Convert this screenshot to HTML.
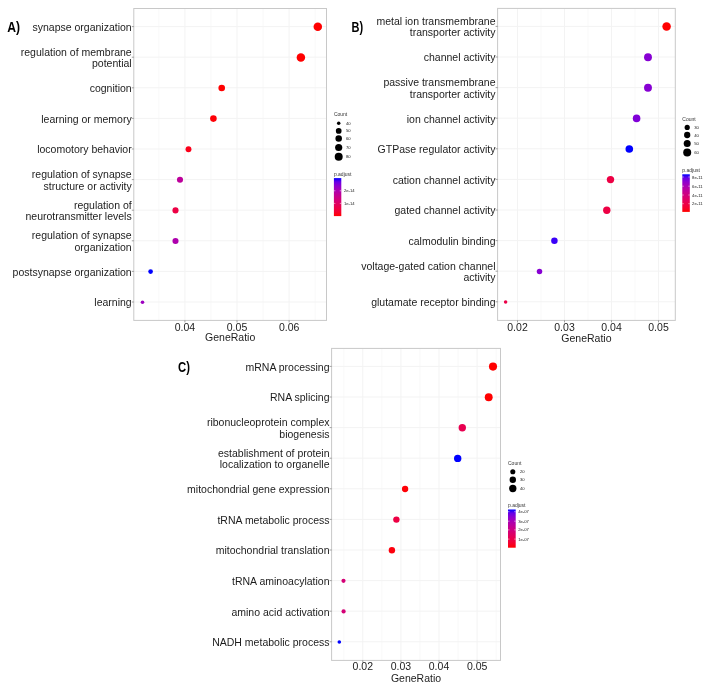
<!DOCTYPE html>
<html><head><meta charset="utf-8"><style>
html,body{margin:0;padding:0;background:#fff;}
svg{display:block;will-change:transform;}
.lb{font-family:"Liberation Sans",sans-serif;font-size:10.5px;fill:#1c1c1c;}
.tag{font-family:"Liberation Sans",sans-serif;font-size:14.5px;font-weight:bold;fill:#000;}
.lg{font-family:"Liberation Sans",sans-serif;font-size:20px;fill:#333;}
.lgs{font-family:"Liberation Sans",sans-serif;font-size:16.8px;fill:#222;}
</style></head><body>
<svg width="708" height="687" viewBox="0 0 708 687">
<rect width="708" height="687" fill="#fff"/>
<defs><filter id="bl" x="-50%" y="-50%" width="200%" height="200%"><feGaussianBlur stdDeviation="0.35"/></filter><linearGradient id="gA" x1="0" y1="0" x2="0" y2="1"><stop offset="0.0" stop-color="#0000ff"/><stop offset="0.1" stop-color="#6800e7"/><stop offset="0.2" stop-color="#8d00ce"/><stop offset="0.3" stop-color="#a600b7"/><stop offset="0.4" stop-color="#ba009f"/><stop offset="0.5" stop-color="#ca0088"/><stop offset="0.6" stop-color="#d70072"/><stop offset="0.7" stop-color="#e3005b"/><stop offset="0.8" stop-color="#ed0044"/><stop offset="0.9" stop-color="#f6002a"/><stop offset="1.0" stop-color="#ff0000"/></linearGradient><linearGradient id="gB" x1="0" y1="0" x2="0" y2="1"><stop offset="0.0" stop-color="#0000ff"/><stop offset="0.1" stop-color="#6800e7"/><stop offset="0.2" stop-color="#8d00ce"/><stop offset="0.3" stop-color="#a600b7"/><stop offset="0.4" stop-color="#ba009f"/><stop offset="0.5" stop-color="#ca0088"/><stop offset="0.6" stop-color="#d70072"/><stop offset="0.7" stop-color="#e3005b"/><stop offset="0.8" stop-color="#ed0044"/><stop offset="0.9" stop-color="#f6002a"/><stop offset="1.0" stop-color="#ff0000"/></linearGradient><linearGradient id="gC" x1="0" y1="0" x2="0" y2="1"><stop offset="0.0" stop-color="#0000ff"/><stop offset="0.1" stop-color="#6800e7"/><stop offset="0.2" stop-color="#8d00ce"/><stop offset="0.3" stop-color="#a600b7"/><stop offset="0.4" stop-color="#ba009f"/><stop offset="0.5" stop-color="#ca0088"/><stop offset="0.6" stop-color="#d70072"/><stop offset="0.7" stop-color="#e3005b"/><stop offset="0.8" stop-color="#ed0044"/><stop offset="0.9" stop-color="#f6002a"/><stop offset="1.0" stop-color="#ff0000"/></linearGradient></defs>
<line x1="158.85" y1="8.5" x2="158.85" y2="320.4" stroke="#f7f7f7" stroke-width="0.7"/>
<line x1="210.95" y1="8.5" x2="210.95" y2="320.4" stroke="#f7f7f7" stroke-width="0.7"/>
<line x1="263.05" y1="8.5" x2="263.05" y2="320.4" stroke="#f7f7f7" stroke-width="0.7"/>
<line x1="315.15" y1="8.5" x2="315.15" y2="320.4" stroke="#f7f7f7" stroke-width="0.7"/>
<line x1="184.90" y1="8.5" x2="184.90" y2="320.4" stroke="#f3f3f3" stroke-width="1"/>
<line x1="237.00" y1="8.5" x2="237.00" y2="320.4" stroke="#f3f3f3" stroke-width="1"/>
<line x1="289.10" y1="8.5" x2="289.10" y2="320.4" stroke="#f3f3f3" stroke-width="1"/>
<line x1="133.8" y1="26.60" x2="326.5" y2="26.60" stroke="#f3f3f3" stroke-width="1"/>
<line x1="133.8" y1="57.20" x2="326.5" y2="57.20" stroke="#f3f3f3" stroke-width="1"/>
<line x1="133.8" y1="87.80" x2="326.5" y2="87.80" stroke="#f3f3f3" stroke-width="1"/>
<line x1="133.8" y1="118.40" x2="326.5" y2="118.40" stroke="#f3f3f3" stroke-width="1"/>
<line x1="133.8" y1="149.00" x2="326.5" y2="149.00" stroke="#f3f3f3" stroke-width="1"/>
<line x1="133.8" y1="179.60" x2="326.5" y2="179.60" stroke="#f3f3f3" stroke-width="1"/>
<line x1="133.8" y1="210.20" x2="326.5" y2="210.20" stroke="#f3f3f3" stroke-width="1"/>
<line x1="133.8" y1="240.80" x2="326.5" y2="240.80" stroke="#f3f3f3" stroke-width="1"/>
<line x1="133.8" y1="271.40" x2="326.5" y2="271.40" stroke="#f3f3f3" stroke-width="1"/>
<line x1="133.8" y1="302.00" x2="326.5" y2="302.00" stroke="#f3f3f3" stroke-width="1"/>
<rect x="133.8" y="8.5" width="192.7" height="311.9" fill="none" stroke="#c8c8c8" stroke-width="1.0"/>
<line x1="131.8" y1="26.60" x2="133.8" y2="26.60" stroke="#7a7a7a" stroke-width="0.7"/>
<line x1="131.8" y1="57.20" x2="133.8" y2="57.20" stroke="#7a7a7a" stroke-width="0.7"/>
<line x1="131.8" y1="87.80" x2="133.8" y2="87.80" stroke="#7a7a7a" stroke-width="0.7"/>
<line x1="131.8" y1="118.40" x2="133.8" y2="118.40" stroke="#7a7a7a" stroke-width="0.7"/>
<line x1="131.8" y1="149.00" x2="133.8" y2="149.00" stroke="#7a7a7a" stroke-width="0.7"/>
<line x1="131.8" y1="179.60" x2="133.8" y2="179.60" stroke="#7a7a7a" stroke-width="0.7"/>
<line x1="131.8" y1="210.20" x2="133.8" y2="210.20" stroke="#7a7a7a" stroke-width="0.7"/>
<line x1="131.8" y1="240.80" x2="133.8" y2="240.80" stroke="#7a7a7a" stroke-width="0.7"/>
<line x1="131.8" y1="271.40" x2="133.8" y2="271.40" stroke="#7a7a7a" stroke-width="0.7"/>
<line x1="131.8" y1="302.00" x2="133.8" y2="302.00" stroke="#7a7a7a" stroke-width="0.7"/>
<line x1="184.90" y1="320.4" x2="184.90" y2="322.4" stroke="#7a7a7a" stroke-width="0.7"/>
<line x1="237.00" y1="320.4" x2="237.00" y2="322.4" stroke="#7a7a7a" stroke-width="0.7"/>
<line x1="289.10" y1="320.4" x2="289.10" y2="322.4" stroke="#7a7a7a" stroke-width="0.7"/>
<text x="131.70000000000002" y="30.95" text-anchor="end" class="lb">synapse organization</text>
<text x="131.70000000000002" y="55.85" text-anchor="end" class="lb">regulation of membrane</text>
<text x="131.70000000000002" y="67.25" text-anchor="end" class="lb">potential</text>
<text x="131.70000000000002" y="92.15" text-anchor="end" class="lb">cognition</text>
<text x="131.70000000000002" y="122.75" text-anchor="end" class="lb">learning or memory</text>
<text x="131.70000000000002" y="153.35" text-anchor="end" class="lb">locomotory behavior</text>
<text x="131.70000000000002" y="178.25" text-anchor="end" class="lb">regulation of synapse</text>
<text x="131.70000000000002" y="189.65" text-anchor="end" class="lb">structure or activity</text>
<text x="131.70000000000002" y="208.85" text-anchor="end" class="lb">regulation of</text>
<text x="131.70000000000002" y="220.25" text-anchor="end" class="lb">neurotransmitter levels</text>
<text x="131.70000000000002" y="239.45" text-anchor="end" class="lb">regulation of synapse</text>
<text x="131.70000000000002" y="250.85" text-anchor="end" class="lb">organization</text>
<text x="131.70000000000002" y="275.75" text-anchor="end" class="lb">postsynapse organization</text>
<text x="131.70000000000002" y="306.35" text-anchor="end" class="lb">learning</text>
<text x="184.90" y="330.6" text-anchor="middle" class="lb">0.04</text>
<text x="237.00" y="330.6" text-anchor="middle" class="lb">0.05</text>
<text x="289.10" y="330.6" text-anchor="middle" class="lb">0.06</text>
<text x="230.15" y="341.3" text-anchor="middle" class="lb">GeneRatio</text>
<circle cx="317.80" cy="26.80" r="4.25" fill="#ff0000"/>
<circle cx="300.90" cy="57.40" r="4.25" fill="#ff0000"/>
<circle cx="221.70" cy="88.00" r="3.30" fill="#ff0000"/>
<circle cx="213.40" cy="118.60" r="3.30" fill="#fe0006"/>
<circle cx="188.50" cy="149.20" r="2.95" fill="#fb001a"/>
<circle cx="180.00" cy="179.80" r="3.05" fill="#bd009b"/>
<circle cx="175.50" cy="210.40" r="3.05" fill="#ed0044"/>
<circle cx="175.50" cy="241.00" r="3.05" fill="#ae00ad"/>
<circle cx="150.60" cy="271.60" r="2.35" fill="#0000ff"/>
<circle cx="142.50" cy="302.20" r="1.80" fill="#9d00c0"/>
<text x="7.3" y="31.8" class="tag" textLength="12.8" lengthAdjust="spacingAndGlyphs">A)</text>
<g filter="url(#bl)">
<text transform="translate(333.9,116.3) scale(0.25)" class="lg">Count</text>
<circle cx="338.7" cy="123.3" r="1.75" fill="#000"/>
<text transform="translate(345.9,124.8) scale(0.25)" class="lgs">40</text>
<circle cx="338.7" cy="130.9" r="2.85" fill="#000"/>
<text transform="translate(345.9,132.4) scale(0.25)" class="lgs">50</text>
<circle cx="338.7" cy="138.6" r="3.25" fill="#000"/>
<text transform="translate(345.9,140.1) scale(0.25)" class="lgs">60</text>
<circle cx="338.7" cy="147.5" r="3.6" fill="#000"/>
<text transform="translate(345.9,149.0) scale(0.25)" class="lgs">70</text>
<circle cx="338.7" cy="156.7" r="4.0" fill="#000"/>
<text transform="translate(345.9,158.2) scale(0.25)" class="lgs">80</text>
<text transform="translate(333.9,175.9) scale(0.25)" class="lg">p.adjust</text>
<rect x="333.9" y="178.1" width="7.4" height="38.0" fill="url(#gA)"/>
<line x1="333.9" y1="190.8" x2="335.4" y2="190.8" stroke="#fff" stroke-width="0.5"/>
<line x1="339.79999999999995" y1="190.8" x2="341.29999999999995" y2="190.8" stroke="#fff" stroke-width="0.5"/>
<text transform="translate(343.9,192.3) scale(0.25)" class="lgs">2e-14</text>
<line x1="333.9" y1="203.4" x2="335.4" y2="203.4" stroke="#fff" stroke-width="0.5"/>
<line x1="339.79999999999995" y1="203.4" x2="341.29999999999995" y2="203.4" stroke="#fff" stroke-width="0.5"/>
<text transform="translate(343.9,204.9) scale(0.25)" class="lgs">1e-14</text>
</g>
<line x1="541.00" y1="8.4" x2="541.00" y2="320.4" stroke="#f7f7f7" stroke-width="0.7"/>
<line x1="588.00" y1="8.4" x2="588.00" y2="320.4" stroke="#f7f7f7" stroke-width="0.7"/>
<line x1="635.00" y1="8.4" x2="635.00" y2="320.4" stroke="#f7f7f7" stroke-width="0.7"/>
<line x1="517.50" y1="8.4" x2="517.50" y2="320.4" stroke="#f3f3f3" stroke-width="1"/>
<line x1="564.50" y1="8.4" x2="564.50" y2="320.4" stroke="#f3f3f3" stroke-width="1"/>
<line x1="611.50" y1="8.4" x2="611.50" y2="320.4" stroke="#f3f3f3" stroke-width="1"/>
<line x1="658.50" y1="8.4" x2="658.50" y2="320.4" stroke="#f3f3f3" stroke-width="1"/>
<line x1="497.6" y1="26.40" x2="675.3" y2="26.40" stroke="#f3f3f3" stroke-width="1"/>
<line x1="497.6" y1="57.00" x2="675.3" y2="57.00" stroke="#f3f3f3" stroke-width="1"/>
<line x1="497.6" y1="87.60" x2="675.3" y2="87.60" stroke="#f3f3f3" stroke-width="1"/>
<line x1="497.6" y1="118.20" x2="675.3" y2="118.20" stroke="#f3f3f3" stroke-width="1"/>
<line x1="497.6" y1="148.80" x2="675.3" y2="148.80" stroke="#f3f3f3" stroke-width="1"/>
<line x1="497.6" y1="179.40" x2="675.3" y2="179.40" stroke="#f3f3f3" stroke-width="1"/>
<line x1="497.6" y1="210.00" x2="675.3" y2="210.00" stroke="#f3f3f3" stroke-width="1"/>
<line x1="497.6" y1="240.60" x2="675.3" y2="240.60" stroke="#f3f3f3" stroke-width="1"/>
<line x1="497.6" y1="271.20" x2="675.3" y2="271.20" stroke="#f3f3f3" stroke-width="1"/>
<line x1="497.6" y1="301.80" x2="675.3" y2="301.80" stroke="#f3f3f3" stroke-width="1"/>
<rect x="497.6" y="8.4" width="177.69999999999993" height="312.0" fill="none" stroke="#c8c8c8" stroke-width="1.0"/>
<line x1="495.6" y1="26.40" x2="497.6" y2="26.40" stroke="#7a7a7a" stroke-width="0.7"/>
<line x1="495.6" y1="57.00" x2="497.6" y2="57.00" stroke="#7a7a7a" stroke-width="0.7"/>
<line x1="495.6" y1="87.60" x2="497.6" y2="87.60" stroke="#7a7a7a" stroke-width="0.7"/>
<line x1="495.6" y1="118.20" x2="497.6" y2="118.20" stroke="#7a7a7a" stroke-width="0.7"/>
<line x1="495.6" y1="148.80" x2="497.6" y2="148.80" stroke="#7a7a7a" stroke-width="0.7"/>
<line x1="495.6" y1="179.40" x2="497.6" y2="179.40" stroke="#7a7a7a" stroke-width="0.7"/>
<line x1="495.6" y1="210.00" x2="497.6" y2="210.00" stroke="#7a7a7a" stroke-width="0.7"/>
<line x1="495.6" y1="240.60" x2="497.6" y2="240.60" stroke="#7a7a7a" stroke-width="0.7"/>
<line x1="495.6" y1="271.20" x2="497.6" y2="271.20" stroke="#7a7a7a" stroke-width="0.7"/>
<line x1="495.6" y1="301.80" x2="497.6" y2="301.80" stroke="#7a7a7a" stroke-width="0.7"/>
<line x1="517.50" y1="320.4" x2="517.50" y2="322.4" stroke="#7a7a7a" stroke-width="0.7"/>
<line x1="564.50" y1="320.4" x2="564.50" y2="322.4" stroke="#7a7a7a" stroke-width="0.7"/>
<line x1="611.50" y1="320.4" x2="611.50" y2="322.4" stroke="#7a7a7a" stroke-width="0.7"/>
<line x1="658.50" y1="320.4" x2="658.50" y2="322.4" stroke="#7a7a7a" stroke-width="0.7"/>
<text x="495.5" y="25.05" text-anchor="end" class="lb">metal ion transmembrane</text>
<text x="495.5" y="36.45" text-anchor="end" class="lb">transporter activity</text>
<text x="495.5" y="61.35" text-anchor="end" class="lb">channel activity</text>
<text x="495.5" y="86.25" text-anchor="end" class="lb">passive transmembrane</text>
<text x="495.5" y="97.65" text-anchor="end" class="lb">transporter activity</text>
<text x="495.5" y="122.55" text-anchor="end" class="lb">ion channel activity</text>
<text x="495.5" y="153.15" text-anchor="end" class="lb">GTPase regulator activity</text>
<text x="495.5" y="183.75" text-anchor="end" class="lb">cation channel activity</text>
<text x="495.5" y="214.35" text-anchor="end" class="lb">gated channel activity</text>
<text x="495.5" y="244.95" text-anchor="end" class="lb">calmodulin binding</text>
<text x="495.5" y="269.85" text-anchor="end" class="lb">voltage-gated cation channel</text>
<text x="495.5" y="281.25" text-anchor="end" class="lb">activity</text>
<text x="495.5" y="306.15" text-anchor="end" class="lb">glutamate receptor binding</text>
<text x="517.50" y="331.0" text-anchor="middle" class="lb">0.02</text>
<text x="564.50" y="331.0" text-anchor="middle" class="lb">0.03</text>
<text x="611.50" y="331.0" text-anchor="middle" class="lb">0.04</text>
<text x="658.50" y="331.0" text-anchor="middle" class="lb">0.05</text>
<text x="586.45" y="341.6" text-anchor="middle" class="lb">GeneRatio</text>
<circle cx="666.60" cy="26.60" r="4.25" fill="#ff0000"/>
<circle cx="648.00" cy="57.20" r="3.95" fill="#8700d3"/>
<circle cx="648.00" cy="87.80" r="3.95" fill="#8700d3"/>
<circle cx="636.60" cy="118.40" r="3.80" fill="#8000d8"/>
<circle cx="629.30" cy="149.00" r="3.80" fill="#0000ff"/>
<circle cx="610.50" cy="179.60" r="3.70" fill="#ed0044"/>
<circle cx="606.80" cy="210.20" r="3.70" fill="#ed0044"/>
<circle cx="554.40" cy="240.80" r="3.25" fill="#3a00f8"/>
<circle cx="539.50" cy="271.40" r="2.75" fill="#8700d3"/>
<circle cx="505.60" cy="302.00" r="1.75" fill="#eb0048"/>
<text x="351.6" y="31.8" class="tag" textLength="11.6" lengthAdjust="spacingAndGlyphs">B)</text>
<g filter="url(#bl)">
<text transform="translate(682.3,120.6) scale(0.25)" class="lg">Count</text>
<circle cx="687.2" cy="127.4" r="2.6" fill="#000"/>
<text transform="translate(694.2,128.9) scale(0.25)" class="lgs">30</text>
<circle cx="687.2" cy="135.0" r="3.15" fill="#000"/>
<text transform="translate(694.2,136.5) scale(0.25)" class="lgs">40</text>
<circle cx="687.2" cy="143.4" r="3.5" fill="#000"/>
<text transform="translate(694.2,144.9) scale(0.25)" class="lgs">50</text>
<circle cx="687.2" cy="152.5" r="4.0" fill="#000"/>
<text transform="translate(694.2,154.0) scale(0.25)" class="lgs">60</text>
<text transform="translate(682.3,172.2) scale(0.25)" class="lg">p.adjust</text>
<rect x="682.3" y="174.3" width="7.5" height="37.599999999999994" fill="url(#gB)"/>
<line x1="682.3" y1="177.0" x2="683.8" y2="177.0" stroke="#fff" stroke-width="0.5"/>
<line x1="688.3" y1="177.0" x2="689.8" y2="177.0" stroke="#fff" stroke-width="0.5"/>
<text transform="translate(692.1,178.5) scale(0.25)" class="lgs">8e-11</text>
<line x1="682.3" y1="186.2" x2="683.8" y2="186.2" stroke="#fff" stroke-width="0.5"/>
<line x1="688.3" y1="186.2" x2="689.8" y2="186.2" stroke="#fff" stroke-width="0.5"/>
<text transform="translate(692.1,187.7) scale(0.25)" class="lgs">6e-11</text>
<line x1="682.3" y1="195.0" x2="683.8" y2="195.0" stroke="#fff" stroke-width="0.5"/>
<line x1="688.3" y1="195.0" x2="689.8" y2="195.0" stroke="#fff" stroke-width="0.5"/>
<text transform="translate(692.1,196.5) scale(0.25)" class="lgs">4e-11</text>
<line x1="682.3" y1="203.7" x2="683.8" y2="203.7" stroke="#fff" stroke-width="0.5"/>
<line x1="688.3" y1="203.7" x2="689.8" y2="203.7" stroke="#fff" stroke-width="0.5"/>
<text transform="translate(692.1,205.2) scale(0.25)" class="lgs">2e-11</text>
</g>
<line x1="343.75" y1="348.4" x2="343.75" y2="660.4" stroke="#f7f7f7" stroke-width="0.7"/>
<line x1="381.85" y1="348.4" x2="381.85" y2="660.4" stroke="#f7f7f7" stroke-width="0.7"/>
<line x1="419.95" y1="348.4" x2="419.95" y2="660.4" stroke="#f7f7f7" stroke-width="0.7"/>
<line x1="458.05" y1="348.4" x2="458.05" y2="660.4" stroke="#f7f7f7" stroke-width="0.7"/>
<line x1="496.15" y1="348.4" x2="496.15" y2="660.4" stroke="#f7f7f7" stroke-width="0.7"/>
<line x1="362.80" y1="348.4" x2="362.80" y2="660.4" stroke="#f3f3f3" stroke-width="1"/>
<line x1="400.90" y1="348.4" x2="400.90" y2="660.4" stroke="#f3f3f3" stroke-width="1"/>
<line x1="439.00" y1="348.4" x2="439.00" y2="660.4" stroke="#f3f3f3" stroke-width="1"/>
<line x1="477.10" y1="348.4" x2="477.10" y2="660.4" stroke="#f3f3f3" stroke-width="1"/>
<line x1="331.6" y1="366.40" x2="500.5" y2="366.40" stroke="#f3f3f3" stroke-width="1"/>
<line x1="331.6" y1="397.00" x2="500.5" y2="397.00" stroke="#f3f3f3" stroke-width="1"/>
<line x1="331.6" y1="427.60" x2="500.5" y2="427.60" stroke="#f3f3f3" stroke-width="1"/>
<line x1="331.6" y1="458.20" x2="500.5" y2="458.20" stroke="#f3f3f3" stroke-width="1"/>
<line x1="331.6" y1="488.80" x2="500.5" y2="488.80" stroke="#f3f3f3" stroke-width="1"/>
<line x1="331.6" y1="519.40" x2="500.5" y2="519.40" stroke="#f3f3f3" stroke-width="1"/>
<line x1="331.6" y1="550.00" x2="500.5" y2="550.00" stroke="#f3f3f3" stroke-width="1"/>
<line x1="331.6" y1="580.60" x2="500.5" y2="580.60" stroke="#f3f3f3" stroke-width="1"/>
<line x1="331.6" y1="611.20" x2="500.5" y2="611.20" stroke="#f3f3f3" stroke-width="1"/>
<line x1="331.6" y1="641.80" x2="500.5" y2="641.80" stroke="#f3f3f3" stroke-width="1"/>
<rect x="331.6" y="348.4" width="168.89999999999998" height="312.0" fill="none" stroke="#c8c8c8" stroke-width="1.0"/>
<line x1="329.6" y1="366.40" x2="331.6" y2="366.40" stroke="#7a7a7a" stroke-width="0.7"/>
<line x1="329.6" y1="397.00" x2="331.6" y2="397.00" stroke="#7a7a7a" stroke-width="0.7"/>
<line x1="329.6" y1="427.60" x2="331.6" y2="427.60" stroke="#7a7a7a" stroke-width="0.7"/>
<line x1="329.6" y1="458.20" x2="331.6" y2="458.20" stroke="#7a7a7a" stroke-width="0.7"/>
<line x1="329.6" y1="488.80" x2="331.6" y2="488.80" stroke="#7a7a7a" stroke-width="0.7"/>
<line x1="329.6" y1="519.40" x2="331.6" y2="519.40" stroke="#7a7a7a" stroke-width="0.7"/>
<line x1="329.6" y1="550.00" x2="331.6" y2="550.00" stroke="#7a7a7a" stroke-width="0.7"/>
<line x1="329.6" y1="580.60" x2="331.6" y2="580.60" stroke="#7a7a7a" stroke-width="0.7"/>
<line x1="329.6" y1="611.20" x2="331.6" y2="611.20" stroke="#7a7a7a" stroke-width="0.7"/>
<line x1="329.6" y1="641.80" x2="331.6" y2="641.80" stroke="#7a7a7a" stroke-width="0.7"/>
<line x1="362.80" y1="660.4" x2="362.80" y2="662.4" stroke="#7a7a7a" stroke-width="0.7"/>
<line x1="400.90" y1="660.4" x2="400.90" y2="662.4" stroke="#7a7a7a" stroke-width="0.7"/>
<line x1="439.00" y1="660.4" x2="439.00" y2="662.4" stroke="#7a7a7a" stroke-width="0.7"/>
<line x1="477.10" y1="660.4" x2="477.10" y2="662.4" stroke="#7a7a7a" stroke-width="0.7"/>
<text x="329.5" y="370.75" text-anchor="end" class="lb">mRNA processing</text>
<text x="329.5" y="401.35" text-anchor="end" class="lb">RNA splicing</text>
<text x="329.5" y="426.25" text-anchor="end" class="lb">ribonucleoprotein complex</text>
<text x="329.5" y="437.65" text-anchor="end" class="lb">biogenesis</text>
<text x="329.5" y="456.85" text-anchor="end" class="lb">establishment of protein</text>
<text x="329.5" y="468.25" text-anchor="end" class="lb">localization to organelle</text>
<text x="329.5" y="493.15" text-anchor="end" class="lb">mitochondrial gene expression</text>
<text x="329.5" y="523.75" text-anchor="end" class="lb">tRNA metabolic process</text>
<text x="329.5" y="554.35" text-anchor="end" class="lb">mitochondrial translation</text>
<text x="329.5" y="584.95" text-anchor="end" class="lb">tRNA aminoacylation</text>
<text x="329.5" y="615.55" text-anchor="end" class="lb">amino acid activation</text>
<text x="329.5" y="646.15" text-anchor="end" class="lb">NADH metabolic process</text>
<text x="362.80" y="670.3" text-anchor="middle" class="lb">0.02</text>
<text x="400.90" y="670.3" text-anchor="middle" class="lb">0.03</text>
<text x="439.00" y="670.3" text-anchor="middle" class="lb">0.04</text>
<text x="477.10" y="670.3" text-anchor="middle" class="lb">0.05</text>
<text x="416.05" y="682.2" text-anchor="middle" class="lb">GeneRatio</text>
<circle cx="493.00" cy="366.60" r="4.05" fill="#ff0000"/>
<circle cx="488.70" cy="397.20" r="3.95" fill="#ff0000"/>
<circle cx="462.30" cy="427.80" r="3.70" fill="#e80050"/>
<circle cx="457.70" cy="458.40" r="3.70" fill="#0000ff"/>
<circle cx="405.10" cy="489.00" r="3.15" fill="#fe0006"/>
<circle cx="396.40" cy="519.60" r="3.20" fill="#ed0044"/>
<circle cx="391.90" cy="550.20" r="3.20" fill="#fd000d"/>
<circle cx="343.50" cy="580.80" r="2.10" fill="#d40076"/>
<circle cx="343.60" cy="611.40" r="2.10" fill="#d40076"/>
<circle cx="339.30" cy="642.00" r="1.80" fill="#0000ff"/>
<text x="178.0" y="371.8" class="tag" textLength="11.9" lengthAdjust="spacingAndGlyphs">C)</text>
<g filter="url(#bl)">
<text transform="translate(508.0,464.9) scale(0.25)" class="lg">Count</text>
<circle cx="512.8" cy="471.7" r="2.55" fill="#000"/>
<text transform="translate(520.0,473.2) scale(0.25)" class="lgs">20</text>
<circle cx="512.8" cy="479.7" r="3.2" fill="#000"/>
<text transform="translate(520.0,481.2) scale(0.25)" class="lgs">30</text>
<circle cx="512.8" cy="488.5" r="3.65" fill="#000"/>
<text transform="translate(520.0,490.0) scale(0.25)" class="lgs">40</text>
<text transform="translate(508.0,507.4) scale(0.25)" class="lg">p.adjust</text>
<rect x="508.0" y="509.5" width="7.7" height="38.200000000000045" fill="url(#gC)"/>
<line x1="508.0" y1="511.7" x2="509.5" y2="511.7" stroke="#fff" stroke-width="0.5"/>
<line x1="514.2" y1="511.7" x2="515.7" y2="511.7" stroke="#fff" stroke-width="0.5"/>
<text transform="translate(518.2,513.2) scale(0.25)" class="lgs">4e-07</text>
<line x1="508.0" y1="521.2" x2="509.5" y2="521.2" stroke="#fff" stroke-width="0.5"/>
<line x1="514.2" y1="521.2" x2="515.7" y2="521.2" stroke="#fff" stroke-width="0.5"/>
<text transform="translate(518.2,522.7) scale(0.25)" class="lgs">3e-07</text>
<line x1="508.0" y1="529.9" x2="509.5" y2="529.9" stroke="#fff" stroke-width="0.5"/>
<line x1="514.2" y1="529.9" x2="515.7" y2="529.9" stroke="#fff" stroke-width="0.5"/>
<text transform="translate(518.2,531.4) scale(0.25)" class="lgs">2e-07</text>
<line x1="508.0" y1="539.1" x2="509.5" y2="539.1" stroke="#fff" stroke-width="0.5"/>
<line x1="514.2" y1="539.1" x2="515.7" y2="539.1" stroke="#fff" stroke-width="0.5"/>
<text transform="translate(518.2,540.6) scale(0.25)" class="lgs">1e-07</text>
</g>
</svg>
</body></html>
